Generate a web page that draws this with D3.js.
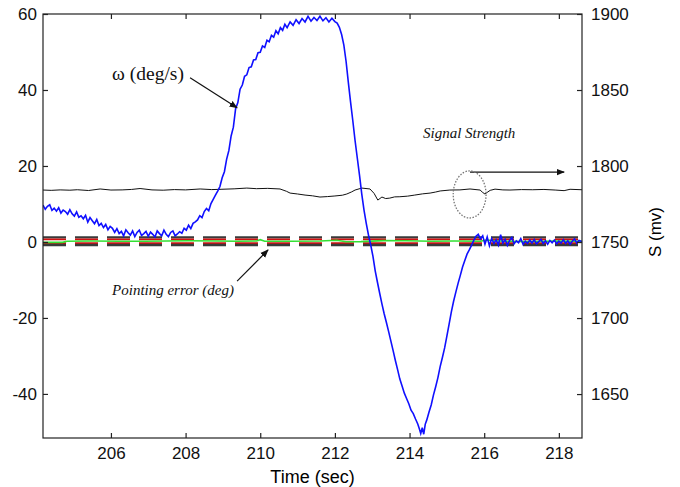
<!DOCTYPE html>
<html lang="en">
<head>
<meta charset="utf-8">
<title>Pointing error, angular rate and signal strength</title>
<style>
body{
  margin: 0;
  background: #fff;
}
.axis text{
  font: 17px "Liberation Sans", Arial, sans-serif;
  fill: #111;
}
.axis path{
  display: none;
}
.axis line{
  stroke: #222;
  stroke-width: 1.2;
}
.note{
  font-family: "Liberation Serif", "Times New Roman", serif;
  fill: #111;
}
</style>
</head>
<body>
<div id="chart"></div>
<script src="https://d3js.org/d3.v7.min.js"></script>
<script>
// angular rate omega (deg/s), left axis
var omegaTime = [204.18,204.24,204.30,204.36,204.42,204.48,204.54,204.60,204.66,204.72,204.78,204.84,204.90,204.96,205.02,205.08,205.14,205.20,205.26,205.32,205.38,205.44,205.50,205.56,205.62,205.68,205.74,205.80,205.86,205.92,205.98,206.04,206.10,206.16,206.22,206.28,206.34,206.40,206.46,206.52,206.58,206.64,206.70,206.76,206.82,206.88,206.94,207.00,207.06,207.12,207.18,207.24,207.30,207.36,207.42,207.48,207.54,207.60,207.66,207.72,207.78,207.84,207.90,207.96,208.02,208.08,208.14,208.20,208.26,208.32,208.38,208.44,208.50,208.56,208.62,208.68,208.74,208.80,208.86,208.92,208.98,209.04,209.10,209.16,209.22,209.28,209.34,209.40,209.46,209.52,209.58,209.64,209.70,209.76,209.82,209.88,209.94,210.00,210.06,210.12,210.18,210.24,210.30,210.36,210.42,210.48,210.54,210.60,210.66,210.72,210.80,210.88,210.96,211.04,211.12,211.20,211.28,211.36,211.44,211.52,211.60,211.68,211.76,211.84,211.92,212.00,212.06,212.12,212.18,212.24,212.30,212.36,212.42,212.48,212.54,212.60,212.66,212.72,212.78,212.84,212.90,212.96,213.02,213.08,213.14,213.20,213.26,213.32,213.38,213.44,213.50,213.56,213.62,213.68,213.74,213.80,213.86,213.92,213.98,214.04,214.10,214.16,214.22,214.26,214.30,214.34,214.38,214.42,214.46,214.52,214.58,214.64,214.70,214.76,214.82,214.88,214.94,215.00,215.06,215.12,215.18,215.24,215.30,215.36,215.42,215.48,215.54,215.60,215.66,215.72,215.78,215.84,215.90,215.96,216.02,216.08,216.14,216.20,216.26,216.32,216.38,216.44,216.50,216.56,216.62,216.68,216.74,216.80,216.86,216.92,216.98,217.04,217.10,217.16,217.22,217.28,217.34,217.40,217.46,217.52,217.58,217.64,217.70,217.76,217.82,217.88,217.94,218.00,218.06,218.12,218.18,218.24,218.30,218.36,218.42,218.48,218.54,218.62];
var omegaDeg = [9.7,8.6,9.4,9.8,8.3,8.9,8.1,9.0,7.6,8.4,8.0,7.3,8.5,7.4,6.8,7.9,6.5,6.9,6.1,7.0,5.2,6.4,5.6,4.8,5.9,4.3,4.9,3.8,4.6,3.2,4.1,3.6,2.5,3.5,2.2,2.8,1.6,3.2,2.4,1.8,2.9,1.4,2.5,3.1,1.7,2.2,2.8,1.5,2.6,2.0,1.3,2.9,2.2,1.6,3.1,2.0,1.4,2.5,2.9,1.6,2.1,2.7,2.3,3.6,3.1,4.4,3.5,4.9,5.3,5.8,6.9,6.4,8.0,8.8,8.2,10.1,11.2,12.3,13.4,14.6,16.9,18.5,21.8,24.1,27.9,30.2,35.1,36.7,40.2,41.3,43.6,44.0,45.9,46.1,47.9,48.0,49.8,49.9,51.6,51.2,53.1,52.7,54.4,53.9,55.6,54.8,56.4,55.7,57.3,56.4,57.9,57.0,58.5,57.5,58.8,57.9,59.4,58.1,59.1,58.3,59.4,58.2,59.0,57.9,58.9,58.0,57.6,56.5,54.6,51.8,47.5,42.0,36.8,31.9,26.7,22.1,17.5,12.6,8.4,4.9,1.8,-0.8,-3.8,-7.6,-10.6,-13.5,-16.3,-18.9,-21.2,-23.6,-26.1,-28.6,-31.2,-33.6,-36.1,-37.9,-39.8,-41.2,-42.6,-44.3,-45.2,-46.6,-47.9,-49.1,-50.4,-48.9,-50.6,-48.0,-46.9,-44.8,-42.9,-40.3,-38.1,-35.7,-32.8,-30.4,-27.9,-24.8,-21.6,-18.4,-15.6,-13.2,-10.9,-8.8,-6.6,-4.9,-3.2,-2.1,-0.9,0.4,1.5,2.0,0.8,1.6,-0.6,1.3,-1.0,0.9,-0.4,0.6,-0.8,1.9,-0.3,0.7,-0.9,0.4,1.2,-0.5,0.3,-0.2,0.9,-0.6,0.2,-0.4,0.5,-0.3,0.6,-0.5,0.1,0.7,-0.4,0.3,-0.6,0.4,-0.2,0.5,-0.5,0.2,-0.3,0.6,-0.4,0.3,-0.6,0.2,0.8,-0.3,0.4,0.1];

// signal strength S (mv), right axis
var signalTime = [204.18,204.40,204.64,204.90,205.10,205.40,205.71,206.00,206.30,206.55,206.78,207.10,207.40,207.70,208.00,208.39,208.70,208.95,209.30,209.64,209.90,210.20,210.53,210.70,210.80,211.00,211.20,211.40,211.60,211.80,212.00,212.20,212.32,212.45,212.54,212.72,212.94,213.05,213.15,213.26,213.36,213.47,213.60,213.74,213.95,214.14,214.35,214.55,214.70,214.82,215.08,215.35,215.62,215.89,215.96,216.02,216.10,216.16,216.29,216.50,216.69,217.00,217.30,217.60,217.90,218.14,218.30,218.62];
var signalMv = [1784.2,1784.0,1784.3,1784.1,1784.4,1783.9,1784.9,1784.2,1784.3,1784.6,1785.2,1784.3,1784.1,1784.5,1784.3,1784.9,1784.5,1784.7,1785.0,1785.5,1785.1,1785.3,1784.9,1783.4,1782.2,1781.6,1780.9,1780.4,1779.6,1779.9,1780.3,1780.8,1781.6,1783.0,1784.2,1785.5,1784.9,1782.0,1777.6,1779.6,1778.6,1778.9,1779.7,1779.8,1780.2,1780.9,1781.7,1782.2,1782.9,1783.6,1784.2,1784.3,1784.9,1784.2,1782.6,1781.6,1783.0,1784.0,1784.8,1784.3,1784.2,1784.5,1784.4,1784.6,1784.2,1783.8,1784.7,1784.4];

// pointing error (deg), left axis
var pointTime = [204.18,204.70,204.82,205.50,206.20,206.90,207.50,208.10,208.80,209.40,209.90,210.00,210.12,210.80,211.60,212.05,212.30,212.70,213.30,213.90,214.60,215.20,215.90,216.05,216.50,217.20,217.90,218.62];
var pointDeg = [-0.1,-0.1,0.2,0.25,0.2,0.2,0.25,0.3,0.25,0.2,0.25,0.6,0.2,0.2,0.25,0.45,0.05,0.1,0.35,0.3,0.2,0.25,0.2,0.5,0.2,0.1,0.25,0.2];

// pointing error limits (dashed)
var limitDeg = [1.2, 0.7, -0.3, -0.8];
var limitColor = ["#3a3a3a", "#d01010", "#d01010", "#3a3a3a"];

var xTicks = [206, 208, 210, 212, 214, 216, 218];
var leftTicks = [-40, -20, 0, 20, 40, 60];
var rightTicks = [1650, 1700, 1750, 1800, 1850, 1900];

var W = 680, H = 487;
var margin = { top: 14, right: 98, bottom: 49, left: 43 };
var width = W - margin.left - margin.right;
var height = H - margin.top - margin.bottom;

var svg = d3.select("#chart").append("svg")
  .attr("width", W)
  .attr("height", H);

var graph = svg.append("g")
  .attr("transform", `translate(${margin.left}, ${margin.top})`);

var x = d3.scaleLinear().domain([204.18, 218.62]).range([0, width]);
var yL = d3.scaleLinear().domain([-51.6, 60]).range([height, 0]);
var yR = d3.scaleLinear().domain([1621.1, 1900]).range([height, 0]);

graph.append("clipPath").attr("id", "clip")
  .append("rect").attr("width", width).attr("height", height);

var plot = graph.append("g").attr("clip-path", "url(#clip)");

// signal strength
plot.append("path")
  .datum(signalTime.map((t, i) => [t, signalMv[i]]))
  .attr("fill", "none")
  .attr("stroke", "#111")
  .attr("stroke-width", 1)
  .attr("d", d3.line().x((d) => x(d[0])).y((d) => yR(d[1])));

// dashed limits
plot.selectAll(".limit").data(limitDeg)
  .enter().append("line")
  .attr("class", "limit")
  .attr("x1", 0)
  .attr("x2", width)
  .attr("y1", (d) => yL(d))
  .attr("y2", (d) => yL(d))
  .attr("stroke", (d, i) => limitColor[i])
  .attr("stroke-width", (d, i) => i == 0 || i == 3 ? 2.4 : 1.8)
  .attr("stroke-dasharray", "23,9");

// pointing error
plot.append("path")
  .datum(pointTime.map((t, i) => [t, pointDeg[i]]))
  .attr("fill", "none")
  .attr("stroke", "#33e033")
  .attr("stroke-width", 1.6)
  .attr("d", d3.line().x((d) => x(d[0])).y((d) => yL(d[1])));

// omega
plot.append("path")
  .datum(omegaTime.map((t, i) => [t, omegaDeg[i]]))
  .attr("fill", "none")
  .attr("stroke", "#1010ff")
  .attr("stroke-width", 1.6)
  .attr("d", d3.line().x((d) => x(d[0])).y((d) => yL(d[1])));

// axes, ticks pointing inward
var plain = (d) => String(d);
graph.append("g").attr("class", "axis")
  .call(d3.axisLeft(yL).tickValues(leftTicks).tickFormat(plain).tickSize(-5).tickPadding(6));
graph.append("g").attr("class", "axis")
  .attr("transform", `translate(0, ${height})`)
  .call(d3.axisBottom(x).tickValues(xTicks).tickFormat(plain).tickSize(-5).tickPadding(9));
graph.append("g").attr("class", "axis")
  .call(d3.axisTop(x).tickValues(xTicks).tickSize(-5).tickFormat(""));
graph.append("g").attr("class", "axis")
  .attr("transform", `translate(${width}, 0)`)
  .call(d3.axisRight(yR).tickValues(rightTicks).tickFormat(plain).tickSize(-5).tickPadding(9));

graph.append("rect")
  .attr("width", width)
  .attr("height", height)
  .attr("fill", "none")
  .attr("stroke", "#222")
  .attr("stroke-width", 1.2);

svg.append("text")
  .attr("x", margin.left + width / 2)
  .attr("y", 483)
  .attr("text-anchor", "middle")
  .style("font", "18px 'Liberation Sans', Arial, sans-serif")
  .text("Time (sec)");

svg.append("text")
  .attr("transform", `translate(661, ${margin.top + height / 2 + 6}) rotate(-90)`)
  .attr("text-anchor", "middle")
  .style("font", "17px 'Liberation Sans', Arial, sans-serif")
  .text("S (mv)");

// annotations (data units)
var defs = svg.append("defs");
defs.append("marker")
  .attr("id", "head")
  .attr("viewBox", "0 0 10 10")
  .attr("refX", 9).attr("refY", 5)
  .attr("markerWidth", 7).attr("markerHeight", 7)
  .attr("orient", "auto")
  .append("path").attr("d", "M0,1 L10,5 L0,9 Z").attr("fill", "#111");

var notes = graph.append("g");

function arrow(t1, v1, t2, v2) {
  notes.append("line")
    .attr("x1", x(t1)).attr("y1", yL(v1))
    .attr("x2", x(t2)).attr("y2", yL(v2))
    .attr("stroke", "#111")
    .attr("stroke-width", 1.2)
    .attr("marker-end", "url(#head)");
}

notes.append("text").attr("class", "note")
  .attr("x", x(206.03)).attr("y", yL(42.6))
  .style("font-size", "19.5px")
  .text("\u03c9 (deg/s)");
arrow(208.12, 43.2, 209.38, 35.3);

notes.append("text").attr("class", "note")
  .attr("x", x(214.36)).attr("y", yL(27.4))
  .style("font-size", "15px").style("font-style", "italic")
  .text("Signal Strength");
arrow(215.62, 18.4, 218.14, 18.4);

notes.append("ellipse")
  .attr("cx", x(215.61)).attr("cy", yL(12.5))
  .attr("rx", x(215.61 + 0.44) - x(215.61))
  .attr("ry", yL(12.5 - 6.2) - yL(12.5))
  .attr("fill", "none")
  .attr("stroke", "#777")
  .attr("stroke-width", 1.3)
  .attr("stroke-dasharray", "1.5,1.5");

notes.append("text").attr("class", "note")
  .attr("x", x(206.03)).attr("y", yL(-13.9))
  .style("font-size", "15px").style("font-style", "italic")
  .text("Pointing error (deg)");
arrow(209.38, -10.3, 210.21, -2.1);
</script>
</body>
</html>
